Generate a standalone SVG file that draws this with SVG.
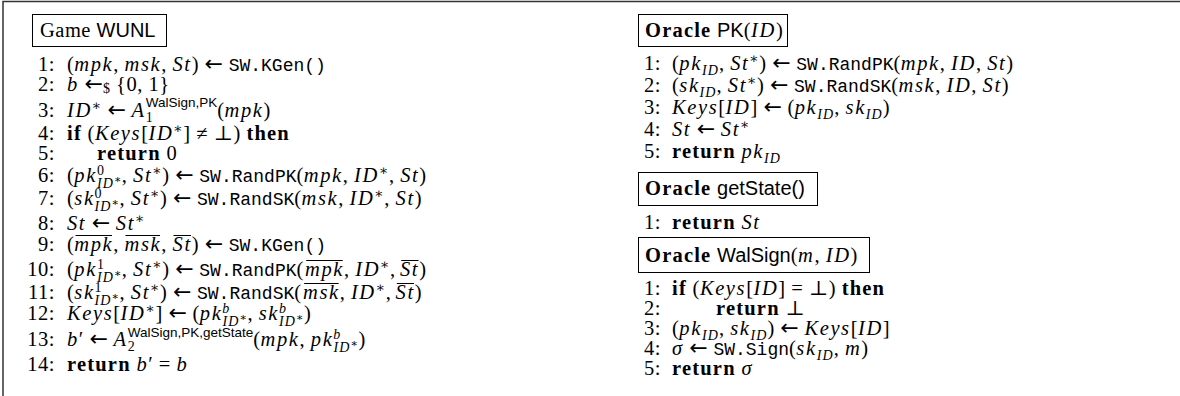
<svg xmlns="http://www.w3.org/2000/svg" width="1180" height="396" viewBox="0 0 1180 396">
<style>
text { font-family: "Liberation Serif", "DejaVu Serif", serif; font-size: 20.5px; fill: #000; letter-spacing: 0.5px; }
.i { font-style: italic; letter-spacing: 1.6px; }
.b { font-weight: bold; letter-spacing: 1.2px; }
.tt { font-family: "Liberation Mono", "DejaVu Sans Mono", monospace; font-size: 18px; letter-spacing: 0; }
.sf { font-family: "Liberation Sans", "DejaVu Sans", sans-serif; font-size: 20px; letter-spacing: 0; }
.s { font-size: 14px; letter-spacing: 0.5px; }
.s.i { letter-spacing: 1.1px; }
.xs { font-size: 11px; }
.ss { font-family: "Liberation Sans", "DejaVu Sans", sans-serif; font-size: 13.5px; letter-spacing: 0; }
.ar { font-family: "DejaVu Sans", sans-serif; font-size: 22px; letter-spacing: 0; }
.n { text-anchor: end; }
.box { fill: none; stroke: #000; stroke-width: 1; }
.ovl { stroke: #000; stroke-width: 1; }
.frame { fill: none; stroke: #333; stroke-width: 1.5; }
</style>
<rect width="1180" height="396" fill="#fff"/>
<path class="frame" d="M3,396 V1.5 H1180"/>

<g id="game">
<rect class="box" x="32.5" y="14.5" width="134" height="32"/>
<text x="40" y="37">Game <tspan class="sf">WUNL</tspan></text>
<text class="n" x="55" y="71">1:</text>
<text x="67" y="71">(<tspan class="i">mpk</tspan>, <tspan class="i">msk</tspan>, <tspan class="i">St</tspan>) <tspan class="ar">←</tspan> <tspan class="tt">SW.KGen()</tspan></text>
<text class="n" x="55" y="91">2:</text>
<text x="67" y="91"><tspan class="i">b</tspan> <tspan class="ar">←</tspan><tspan class="s" baseline-shift="-2">$</tspan> {0, 1}</text>
<text class="n" x="55" y="117">3:</text>
<text x="67" y="117"><tspan class="i">ID</tspan><tspan class="s" baseline-shift="7">∗</tspan> <tspan class="ar">←</tspan> <tspan class="i">A</tspan><tspan class="s" baseline-shift="-5">1</tspan><tspan class="ss" dx="-7.5" baseline-shift="10">WalSign,PK</tspan>(<tspan class="i">mpk</tspan>)</text>
<text class="n" x="55" y="140">4:</text>
<text x="67" y="140"><tspan class="b">if</tspan> (<tspan class="i">Keys</tspan>[<tspan class="i">ID</tspan><tspan class="s" baseline-shift="7">∗</tspan>] ≠ ⊥) <tspan class="b">then</tspan></text>
<text class="n" x="55" y="160">5:</text>
<text x="97" y="160"><tspan class="b">return</tspan> 0</text>
<text class="n" x="55" y="182">6:</text>
<text x="67" y="182">(<tspan class="i">pk</tspan><tspan class="s" baseline-shift="7.5">0</tspan><tspan class="s i" dx="-7.5" baseline-shift="-5.5">ID</tspan><tspan class="xs" baseline-shift="-1">∗</tspan>, <tspan class="i">St</tspan><tspan class="s" baseline-shift="7">∗</tspan>) <tspan class="ar">←</tspan> <tspan class="tt">SW.RandPK</tspan>(<tspan class="i">mpk</tspan>, <tspan class="i">ID</tspan><tspan class="s" baseline-shift="7">∗</tspan>, <tspan class="i">St</tspan>)</text>
<text class="n" x="55" y="205">7:</text>
<text x="67" y="205">(<tspan class="i">sk</tspan><tspan class="s" baseline-shift="7.5">0</tspan><tspan class="s i" dx="-7.5" baseline-shift="-5.5">ID</tspan><tspan class="xs" baseline-shift="-1">∗</tspan>, <tspan class="i">St</tspan><tspan class="s" baseline-shift="7">∗</tspan>) <tspan class="ar">←</tspan> <tspan class="tt">SW.RandSK</tspan>(<tspan class="i">msk</tspan>, <tspan class="i">ID</tspan><tspan class="s" baseline-shift="7">∗</tspan>, <tspan class="i">St</tspan>)</text>
<text class="n" x="55" y="230">8:</text>
<text x="67" y="230"><tspan class="i">St</tspan> <tspan class="ar">←</tspan> <tspan class="i">St</tspan><tspan class="s" baseline-shift="7">∗</tspan></text>
<text class="n" x="55" y="251">9:</text>
<text x="67" y="251">(<tspan class="i" x="74.3">mpk</tspan>, <tspan class="i" x="124.6">msk</tspan>, <tspan class="i" x="172.6">St</tspan>) <tspan class="ar">←</tspan> <tspan class="tt">SW.KGen()</tspan></text>
<text class="n" x="55" y="276">10:</text>
<text x="67" y="276">(<tspan class="i">pk</tspan><tspan class="s" baseline-shift="7.5">1</tspan><tspan class="s i" dx="-7.5" baseline-shift="-5.5">ID</tspan><tspan class="xs" baseline-shift="-1">∗</tspan>, <tspan class="i">St</tspan><tspan class="s" baseline-shift="7">∗</tspan>) <tspan class="ar">←</tspan> <tspan class="tt">SW.RandPK</tspan>(<tspan class="i" x="305">mpk</tspan>, <tspan class="i">ID</tspan><tspan class="s" baseline-shift="7">∗</tspan>, <tspan class="i" x="400">St</tspan>)</text>
<text class="n" x="55" y="299">11:</text>
<text x="67" y="299">(<tspan class="i">sk</tspan><tspan class="s" baseline-shift="7.5">1</tspan><tspan class="s i" dx="-7.5" baseline-shift="-5.5">ID</tspan><tspan class="xs" baseline-shift="-1">∗</tspan>, <tspan class="i">St</tspan><tspan class="s" baseline-shift="7">∗</tspan>) <tspan class="ar">←</tspan> <tspan class="tt">SW.RandSK</tspan>(<tspan class="i" x="303">msk</tspan>, <tspan class="i">ID</tspan><tspan class="s" baseline-shift="7">∗</tspan>, <tspan class="i" x="395.6">St</tspan>)</text>
<text class="n" x="55" y="320">12:</text>
<text x="67" y="320"><tspan class="i">Keys</tspan>[<tspan class="i">ID</tspan><tspan class="s" baseline-shift="7">∗</tspan>] <tspan class="ar">←</tspan> (<tspan class="i">pk</tspan><tspan class="s i" baseline-shift="7.5">b</tspan><tspan class="s i" dx="-8" baseline-shift="-5.5">ID</tspan><tspan class="xs" baseline-shift="-1">∗</tspan>, <tspan class="i">sk</tspan><tspan class="s i" baseline-shift="7.5">b</tspan><tspan class="s i" dx="-8" baseline-shift="-5.5">ID</tspan><tspan class="xs" baseline-shift="-1">∗</tspan>)</text>
<text class="n" x="55" y="346">13:</text>
<text x="67" y="346"><tspan class="i">b</tspan>′ <tspan class="ar">←</tspan> <tspan class="i">A</tspan><tspan class="s" baseline-shift="-5">2</tspan><tspan class="ss" dx="-7.5" baseline-shift="9.5">WalSign,PK,getState</tspan>(<tspan class="i">mpk</tspan>, <tspan class="i">pk</tspan><tspan class="s i" baseline-shift="7.5">b</tspan><tspan class="s i" dx="-8" baseline-shift="-5.5">ID</tspan><tspan class="xs" baseline-shift="-1">∗</tspan>)</text>
<text class="n" x="55" y="371">14:</text>
<text x="67" y="371"><tspan class="b">return</tspan> <tspan class="i">b</tspan>′ = <tspan class="i">b</tspan></text>
<g id="overlines">
<line class="ovl" x1="75.5" y1="235.5" x2="112" y2="235.5"/>
<line class="ovl" x1="125.5" y1="235.5" x2="160" y2="235.5"/>
<line class="ovl" x1="173.5" y1="235.5" x2="191" y2="235.5"/>
<line class="ovl" x1="306.2" y1="260.5" x2="342.7" y2="260.5"/>
<line class="ovl" x1="401.2" y1="260.5" x2="418.5" y2="260.5"/>
<line class="ovl" x1="304.2" y1="283.5" x2="338.7" y2="283.5"/>
<line class="ovl" x1="396.8" y1="283.5" x2="414" y2="283.5"/>
</g>
</g>

<g id="oracle-pk">
<rect class="box" x="638.5" y="14.5" width="149" height="32"/>
<text x="645" y="37"><tspan class="b">Oracle</tspan> <tspan class="sf">PK</tspan>(<tspan class="i">ID</tspan>)</text>
<text class="n" x="661" y="70">1:</text>
<text x="672" y="70">(<tspan class="i">pk</tspan><tspan class="s i" baseline-shift="-5">ID</tspan>, <tspan class="i">St</tspan><tspan class="s" baseline-shift="7">∗</tspan>) <tspan class="ar">←</tspan> <tspan class="tt">SW.RandPK</tspan>(<tspan class="i">mpk</tspan>, <tspan class="i">ID</tspan>, <tspan class="i">St</tspan>)</text>
<text class="n" x="661" y="92">2:</text>
<text x="672" y="92">(<tspan class="i">sk</tspan><tspan class="s i" baseline-shift="-5">ID</tspan>, <tspan class="i">St</tspan><tspan class="s" baseline-shift="7">∗</tspan>) <tspan class="ar">←</tspan> <tspan class="tt">SW.RandSK</tspan>(<tspan class="i">msk</tspan>, <tspan class="i">ID</tspan>, <tspan class="i">St</tspan>)</text>
<text class="n" x="661" y="114">3:</text>
<text x="672" y="114"><tspan class="i">Keys</tspan>[<tspan class="i">ID</tspan>] <tspan class="ar">←</tspan> (<tspan class="i">pk</tspan><tspan class="s i" baseline-shift="-5">ID</tspan>, <tspan class="i">sk</tspan><tspan class="s i" baseline-shift="-5">ID</tspan>)</text>
<text class="n" x="661" y="136">4:</text>
<text x="672" y="136"><tspan class="i">St</tspan> <tspan class="ar">←</tspan> <tspan class="i">St</tspan><tspan class="s" baseline-shift="7">∗</tspan></text>
<text class="n" x="661" y="158">5:</text>
<text x="672" y="158"><tspan class="b">return</tspan> <tspan class="i">pk</tspan><tspan class="s i" baseline-shift="-5">ID</tspan></text>
</g>

<g id="oracle-getstate">
<rect class="box" x="638.5" y="172.5" width="179" height="33"/>
<text x="645" y="195"><tspan class="b">Oracle</tspan> <tspan class="sf">getState()</tspan></text>
<text class="n" x="661" y="229">1:</text>
<text x="672" y="229"><tspan class="b">return</tspan> <tspan class="i">St</tspan></text>
</g>

<g id="oracle-walsign">
<rect class="box" x="638.5" y="237.5" width="231" height="35"/>
<text x="645" y="262"><tspan class="b">Oracle</tspan> <tspan class="sf">WalSign</tspan>(<tspan class="i">m</tspan>, <tspan class="i">ID</tspan>)</text>
<text class="n" x="661" y="295">1:</text>
<text x="672" y="295"><tspan class="b">if</tspan> (<tspan class="i">Keys</tspan>[<tspan class="i">ID</tspan>] = ⊥) <tspan class="b">then</tspan></text>
<text class="n" x="661" y="315">2:</text>
<text x="716" y="315"><tspan class="b">return</tspan> ⊥</text>
<text class="n" x="661" y="335">3:</text>
<text x="672" y="335">(<tspan class="i">pk</tspan><tspan class="s i" baseline-shift="-5">ID</tspan>, <tspan class="i">sk</tspan><tspan class="s i" baseline-shift="-5">ID</tspan>) <tspan class="ar">←</tspan> <tspan class="i">Keys</tspan>[<tspan class="i">ID</tspan>]</text>
<text class="n" x="661" y="355">4:</text>
<text x="672" y="355"><tspan class="i">σ</tspan> <tspan class="ar">←</tspan> <tspan class="tt">SW.Sign</tspan>(<tspan class="i">sk</tspan><tspan class="s i" baseline-shift="-5">ID</tspan>, <tspan class="i">m</tspan>)</text>
<text class="n" x="661" y="375">5:</text>
<text x="672" y="375"><tspan class="b">return</tspan> <tspan class="i">σ</tspan></text>
</g>
</svg>
